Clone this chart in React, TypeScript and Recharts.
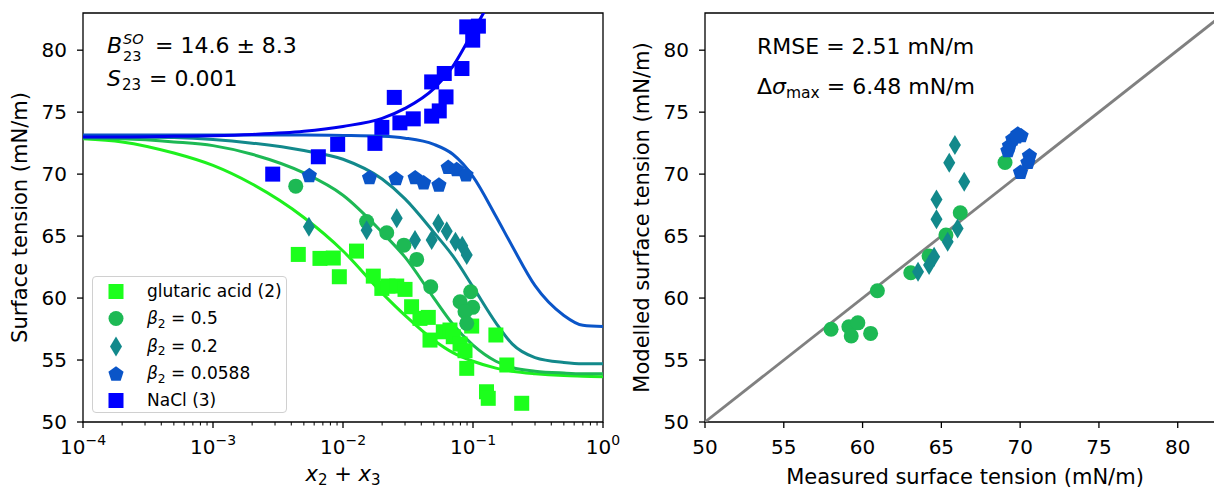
import React from "react";
import { ComposedChart, Line, Scatter, XAxis, YAxis, ReferenceArea, Legend } from "recharts";

const FONT = "'DejaVu Sans', sans-serif";

// ---- left panel: measured points (x2 + x3, surface tension) ----
const glutaricX = [0.00453, 0.00665, 0.00842, 0.00937, 0.0127, 0.0171, 0.0199, 0.0222, 0.0259, 0.03, 0.0337, 0.0391, 0.0453, 0.0467, 0.0591, 0.0665, 0.0705, 0.0795, 0.0868, 0.0977, 0.0895, 0.15, 0.182, 0.127, 0.131, 0.237];
const glutaricY = [63.52, 63.2, 63.23, 61.72, 63.79, 61.77, 60.78, 60.97, 60.97, 60.7, 59.3, 58.36, 58.44, 56.61, 57.28, 57.42, 56.88, 56.29, 55.75, 57.74, 54.33, 57.02, 54.6, 52.44, 51.91, 51.51];

const beta05X = [0.00433, 0.0152, 0.0217, 0.0294, 0.0369, 0.0473, 0.0795, 0.096, 0.0995, 0.0868, 0.0895];
const beta05Y = [69.03, 66.17, 65.27, 64.27, 63.12, 60.91, 59.7, 60.51, 59.25, 58.9, 57.96];

const beta02X = [0.00547, 0.0152, 0.0259, 0.0358, 0.0481, 0.0541, 0.0628, 0.0733, 0.0827, 0.0895];
const beta02Y = [65.75, 65.48, 66.43, 64.68, 64.68, 66.02, 65.4, 64.54, 64.23, 63.47];

const beta0588X = [0.00551, 0.016, 0.0256, 0.0359, 0.0417, 0.0547, 0.0645, 0.0749, 0.0884];
const beta0588Y = [69.94, 69.76, 69.68, 69.76, 69.35, 69.17, 70.59, 70.42, 70.0];

const naclX = [0.00288, 0.00646, 0.0091, 0.0176, 0.0199, 0.0248, 0.0274, 0.0347, 0.0481, 0.055, 0.062, 0.0481, 0.0601, 0.0822, 0.0895, 0.11, 0.0995];
const naclY = [70.0, 71.4, 72.4, 72.48, 73.77, 76.19, 74.14, 74.46, 74.68, 75.1, 76.23, 77.44, 78.12, 78.52, 81.88, 81.94, 80.81];

// ---- left panel: model curves ----
const fitX = [1e-4, 2e-4, 5e-4, 1e-3, 2e-3, 5e-3, 1e-2, 2e-2, 3e-2, 5e-2, 0.07, 0.1, 0.15, 0.2, 0.3, 0.5, 0.7, 1];
const glutaricFit = [72.85, 72.6, 71.7, 70.7, 69.2, 66.5, 63.8, 60.4, 58.6, 56.6, 55.6, 54.9, 54.35, 54.1, 53.9, 53.75, 53.7, 53.65];
const beta05Fit = [72.9, 72.85, 72.6, 72.3, 71.6, 70.1, 68.3, 65.3, 63.3, 60.0, 57.9, 56.2, 54.9, 54.4, 54.1, 53.95, 53.9, 53.9];
const beta02Fit = [73.0, 73.0, 72.95, 72.8, 72.5, 71.9, 71.2, 69.6, 68.0, 65.3, 63.4, 60.9, 58.0, 56.3, 55.2, 54.8, 54.7, 54.7];
const beta0588Fit = [73.15, 73.15, 73.15, 73.15, 73.15, 73.15, 73.12, 73.05, 72.9, 72.4, 71.6, 69.8, 66.6, 64.2, 61.0, 58.6, 57.8, 57.7];
const naclFitX = [1e-4, 2e-4, 5e-4, 1e-3, 2e-3, 5e-3, 1e-2, 2e-2, 3e-2, 5e-2, 0.07, 0.1, 0.13];
const naclFit = [73.0, 73.0, 73.05, 73.1, 73.2, 73.45, 73.85, 74.5, 75.3, 76.9, 78.7, 81.5, 83.6];

// ---- right panel: measured vs modelled ----
const parityCircleX = [58.0, 59.13, 59.7, 59.28, 60.51, 60.94, 63.06, 64.22, 65.29, 66.2, 69.04];
const parityCircleY = [57.48, 57.69, 58.0, 56.94, 57.15, 60.59, 62.04, 63.39, 65.08, 66.88, 70.94];
const parityDiamondX = [65.86, 65.5, 66.45, 64.69, 64.69, 66.03, 65.4, 64.54, 64.22, 63.52];
const parityDiamondY = [72.34, 70.91, 69.38, 67.96, 66.35, 65.62, 64.54, 63.33, 62.66, 62.12];
const parityPentX = [69.85, 69.53, 69.32, 69.22, 70.59, 70.49, 70.02, 70.06, 69.76];
const parityPentY = [73.28, 72.88, 72.34, 71.94, 71.53, 70.99, 70.19, 73.15, 73.05];
const parityLine = [50, 83];

const yTicks = [50, 55, 60, 65, 70, 75, 80];
const parityXTicks = [50, 55, 60, 65, 70, 75, 80];
const decades = [1e-4, 1e-3, 1e-2, 1e-1, 1];
const logTicks = [...decades, ...decades.slice(0, 4).flatMap((d) => [2, 3, 4, 5, 6, 7, 8, 9].map((k) => k * d))];

const zip = (xs: number[], ys: number[]) => xs.map((x, i) => ({ x, y: ys[i] }));

const COL = {
  glut: "#1cff1c",
  glutLine: "#1ef01e",
  b05: "#1db954",
  b02: "#12898b",
  b0588: "#0a55c8",
  nacl: "#0000ff",
  naclLine: "#0000ee",
};

const PLOT_BOTTOM = 422;
const LW = 3;

function drawMarker(kind: string, cx: number, cy: number, color: string) {
  if (kind === "square") return <rect x={cx - 7.5} y={cy - 7.5} width={15} height={15} fill={color} />;
  if (kind === "circle") return <circle cx={cx} cy={cy} r={7.5} fill={color} />;
  if (kind === "diamond") {
    return <polygon points={`${cx},${cy - 10} ${cx + 6},${cy} ${cx},${cy + 10} ${cx - 6},${cy}`} fill={color} />;
  }
  const pts = [0, 1, 2, 3, 4]
    .map((k) => {
      const a = (-90 + k * 72) * (Math.PI / 180);
      return `${cx + 8 * Math.cos(a)},${cy + 8 * Math.sin(a) + 0.8}`;
    })
    .join(" ");
  return <polygon points={pts} fill={color} />;
}

const shape = (kind: string, color: string) => (p: any) => drawMarker(kind, p.cx, p.cy, color);

const LogTick = (props: any) => {
  const { x, payload } = props;
  const lg = Math.log10(payload.value);
  const exp = Math.round(lg);
  const major = Math.abs(lg - exp) < 1e-6;
  return (
    <g>
      <line x1={x} x2={x} y1={PLOT_BOTTOM} y2={PLOT_BOTTOM + (major ? 6 : 3.5)} stroke="#000" strokeWidth={major ? 1.3 : 1} />
      {major && (
        <text x={x} y={454} textAnchor="middle" fontSize={20} fontFamily={FONT} fill="#000">
          10
          <tspan dy={-9} fontSize={14}>
            {exp < 0 ? `\u2212${-exp}` : String(exp)}
          </tspan>
        </text>
      )}
    </g>
  );
};

const Sub = ({ children }: { children: React.ReactNode }) => (
  <span style={{ fontSize: "72%", position: "relative", top: "0.3em" }}>{children}</span>
);

const legendRows = [
  { kind: "square", color: COL.glut, label: <>glutaric acid (2)</> },
  { kind: "circle", color: COL.b05, label: <><i>β</i><Sub>2</Sub> = 0.5</> },
  { kind: "diamond", color: COL.b02, label: <><i>β</i><Sub>2</Sub> = 0.2</> },
  { kind: "pentagon", color: COL.b0588, label: <><i>β</i><Sub>2</Sub> = 0.0588</> },
  { kind: "square", color: COL.nacl, label: <>NaCl (3)</> },
];

const LegendBox = () => (
  <div
    style={{
      position: "relative",
      width: 195,
      height: 137,
      boxSizing: "border-box",
      border: "1.3px solid #d0d0d0",
      borderRadius: 4,
      background: "rgba(255,255,255,0.8)",
      fontFamily: FONT,
      fontSize: 17,
      color: "#000",
    }}
  >
    {legendRows.map((r, i) => (
      <div key={i} style={{ position: "absolute", left: 0, top: 1 + i * 27.3, height: 27, width: 195 }}>
        <svg width={40} height={27} style={{ position: "absolute", left: 3, top: 0 }}>
          {drawMarker(r.kind, 20, 13.5, r.color)}
        </svg>
        <div style={{ position: "absolute", left: 54, top: 0, lineHeight: "27px", whiteSpace: "nowrap" }}>{r.label}</div>
      </div>
    ))}
  </div>
);

const axisTick = { fill: "#000", fontSize: 20, fontFamily: FONT };
const tickLine = { stroke: "#000", strokeWidth: 1.3 };

function LeftPanel() {
  return (
    <ComposedChart width={620} height={488} margin={{ top: 13, right: 17, bottom: 0, left: 0 }}>
      <XAxis
        dataKey="x"
        type="number"
        scale="log"
        domain={[1e-4, 1]}
        allowDataOverflow
        ticks={logTicks}
        interval={0}
        tick={<LogTick />}
        tickLine={false}
        axisLine={false}
        height={66}
      />
      <YAxis
        dataKey="y"
        type="number"
        domain={[50, 83]}
        allowDataOverflow
        ticks={yTicks}
        interval={0}
        tick={axisTick}
        tickLine={tickLine}
        tickSize={6}
        tickMargin={10}
        axisLine={false}
        width={83}
      />
      <ReferenceArea x1={1e-4} x2={1} y1={50} y2={83} fill="none" stroke="#000" strokeWidth={1.3} />
      <Line data={zip(fitX, glutaricFit)} dataKey="y" type="monotone" stroke={COL.glutLine} strokeWidth={LW} dot={false} isAnimationActive={false} />
      <Line data={zip(fitX, beta05Fit)} dataKey="y" type="monotone" stroke={COL.b05} strokeWidth={LW} dot={false} isAnimationActive={false} />
      <Line data={zip(fitX, beta02Fit)} dataKey="y" type="monotone" stroke={COL.b02} strokeWidth={LW} dot={false} isAnimationActive={false} />
      <Line data={zip(fitX, beta0588Fit)} dataKey="y" type="monotone" stroke={COL.b0588} strokeWidth={LW} dot={false} isAnimationActive={false} />
      <Line data={zip(naclFitX, naclFit)} dataKey="y" type="monotone" stroke={COL.naclLine} strokeWidth={LW} dot={false} isAnimationActive={false} />
      <Scatter data={zip(glutaricX, glutaricY)} dataKey="y" shape={shape("square", COL.glut)} isAnimationActive={false} />
      <Scatter data={zip(beta05X, beta05Y)} dataKey="y" shape={shape("circle", COL.b05)} isAnimationActive={false} />
      <Scatter data={zip(beta02X, beta02Y)} dataKey="y" shape={shape("diamond", COL.b02)} isAnimationActive={false} />
      <Scatter data={zip(beta0588X, beta0588Y)} dataKey="y" shape={shape("pentagon", COL.b0588)} isAnimationActive={false} />
      <Scatter data={zip(naclX, naclY)} dataKey="y" shape={shape("square", COL.nacl)} isAnimationActive={false} />
      <Legend
        layout="vertical"
        align="center"
        verticalAlign="middle"
        wrapperStyle={{ left: 92, top: 276, width: 195, height: 137 }}
        content={() => <LegendBox />}
      />
    </ComposedChart>
  );
}

function RightPanel() {
  return (
    <ComposedChart width={620} height={488} margin={{ top: 13, right: 15, bottom: 0, left: 0 }}>
      <XAxis
        dataKey="x"
        type="number"
        domain={[50, 83]}
        allowDataOverflow
        ticks={parityXTicks}
        interval={0}
        tick={axisTick}
        tickLine={tickLine}
        tickSize={6}
        tickMargin={12}
        axisLine={false}
        height={66}
      />
      <YAxis
        dataKey="y"
        type="number"
        domain={[50, 83]}
        allowDataOverflow
        ticks={yTicks}
        interval={0}
        tick={axisTick}
        tickLine={tickLine}
        tickSize={6}
        tickMargin={10}
        axisLine={false}
        width={85}
      />
      <ReferenceArea x1={50} x2={83} y1={50} y2={83} fill="none" stroke="#000" strokeWidth={1.3} />
      <Line data={zip(parityLine, parityLine)} dataKey="y" type="linear" stroke="#808080" strokeWidth={2.8} dot={false} isAnimationActive={false} />
      <Scatter data={zip(parityCircleX, parityCircleY)} dataKey="y" shape={shape("circle", COL.b05)} isAnimationActive={false} />
      <Scatter data={zip(parityDiamondX, parityDiamondY)} dataKey="y" shape={shape("diamond", COL.b02)} isAnimationActive={false} />
      <Scatter data={zip(parityPentX, parityPentY)} dataKey="y" shape={shape("pentagon", COL.b0588)} isAnimationActive={false} />
    </ComposedChart>
  );
}

export default function App() {
  return (
    <div style={{ position: "absolute", left: 0, top: 0, width: 1214, height: 488, overflow: "hidden", background: "#fff" }}>
      <div style={{ position: "absolute", left: 0, top: 0 }}>
        <LeftPanel />
      </div>
      <div style={{ position: "absolute", left: 620, top: 0 }}>
        <RightPanel />
      </div>
      <svg width={1214} height={488} style={{ position: "absolute", left: 0, top: 0, pointerEvents: "none" }} fontFamily={FONT} fill="#000">
        <text x={27} y={217.5} transform="rotate(-90 27 217.5)" textAnchor="middle" fontSize={21}>
          Surface tension (mN/m)
        </text>
        <text x={649} y={217.5} transform="rotate(-90 649 217.5)" textAnchor="middle" fontSize={21}>
          Modelled surface tension (mN/m)
        </text>
        <text x={343} y={481} textAnchor="middle" fontSize={21}>
          <tspan fontStyle="italic">x</tspan>
          <tspan fontSize={15} dy={4}>2</tspan>
          <tspan dy={-4}>{" + "}</tspan>
          <tspan fontStyle="italic">x</tspan>
          <tspan fontSize={15} dy={4}>3</tspan>
        </text>
        <text x={965} y={484} textAnchor="middle" fontSize={21}>
          Measured surface tension (mN/m)
        </text>

        {/* fit parameters */}
        <text fontSize={22}>
          <tspan x={107} y={53} fontStyle="italic">B</tspan>
          <tspan x={123} y={44} fontSize={14.5} fontStyle="italic">SO</tspan>
          <tspan x={123} y={60.5} fontSize={14.5}>23</tspan>
          <tspan x={155} y={53}>= 14.6 ± 8.3</tspan>
        </text>
        <text fontSize={22}>
          <tspan x={107} y={86} fontStyle="italic">S</tspan>
          <tspan x={122} y={89.5} fontSize={15}>23</tspan>
          <tspan x={149} y={86}>= 0.001</tspan>
        </text>

        <text x={757} y={54} fontSize={22}>RMSE = 2.51 mN/m</text>
        <text x={757} y={94} fontSize={22}>
          Δ<tspan fontStyle="italic">σ</tspan>
          <tspan fontSize={15.5} dy={4}>max</tspan>
          <tspan dy={-4}>{" = 6.48 mN/m"}</tspan>
        </text>
      </svg>
    </div>
  );
}
